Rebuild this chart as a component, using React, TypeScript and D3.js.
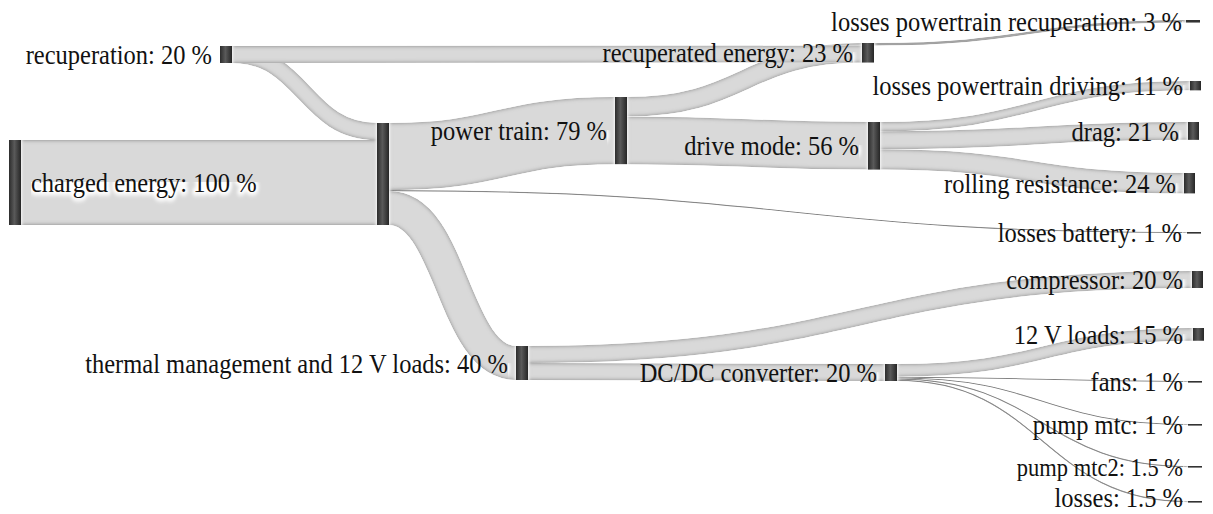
import React from 'react';
import * as d3 from 'd3';

// ---------- data ----------
const nodeNames = [
  'recuperation', 'charged energy', '', 'power train',
  'thermal management and 12 V loads', 'recuperated energy', 'drive mode',
  'DC/DC converter', 'losses powertrain recuperation', 'losses powertrain driving',
  'drag', 'rolling resistance', 'losses battery', 'compressor', '12 V loads',
  'fans', 'pump mtc', 'pump mtc2', 'losses',
];
const nodeValues = [20, 100, 120, 79, 40, 23, 56, 20, 3, 11, 21, 24, 1, 20, 15, 1, 1, 1.5, 1.5];

const linkSource = [0, 1, 2, 2, 2, 3, 3, 5, 5, 6, 6, 6, 4, 4, 7, 7, 7, 7, 7];
const linkTarget = [2, 2, 3, 12, 4, 5, 6, 8, 0, 9, 10, 11, 13, 7, 14, 15, 16, 17, 18];
const linkValue = [20, 100, 79, 1, 40, 23, 56, 3, 20, 11, 21, 24, 20, 20, 15, 1, 1, 1.5, 1.5];

// ---------- layout (hand-placed node positions, as in the reference) ----------
const nodeLeft = [220, 9, 377, 615, 516, 862, 868, 885, 1186, 1190, 1188, 1184, 1187, 1192, 1193, 1188, 1188, 1188, 1188];
const nodeTop = [46, 140, 123, 97, 346, 43, 122, 364, 20, 81, 122, 173, 232, 271, 328, 381, 424, 466, 501];
const labelGap = [8, 0, 0, 8, 8, 9, 9, 8, 4, 7, 9, 8, 5, 9, 10, 5, 5, 5, 5];
const labelShift = [0, 0, 0, 0, 0, 0, 0, 0, 0, 0, 0, 0, 0, 0, 0, 0, 0, 0, -4];
const labelSize = [24.5, 24.5, 24.5, 24.5, 24.5, 24.5, 24.5, 24.5, 24.5, 24.5, 24.5, 24.5, 24.5, 24.5, 24.5, 24.5, 24.5, 22.5, 24.5];

const W = 1213;
const H = 514;

const hScale = d3.scaleLinear().domain([0, 100]).range([0, 85]);

export default function App() {
  const n = nodeNames.length;
  const nodeH = nodeValues.map((v) => hScale(v));
  const nodeW = nodeValues.map((v, i) => (nodeLeft[i] > 1100 ? (v < 5 ? 14 : 11) : 12));

  const outOff = new Array(n).fill(0);
  const inOff = new Array(n).fill(0);
  const linkGen = d3.linkHorizontal<any, [number, number]>()
    .source((d: any) => d.s)
    .target((d: any) => d.t);

  const links = linkValue.map((v, i) => {
    const s = linkSource[i];
    const t = linkTarget[i];
    const h = hScale(v);
    let x0, y0, x1, y1;
    if (nodeLeft[t] < nodeLeft[s]) {
      x0 = nodeLeft[t] + nodeW[t];
      y0 = nodeTop[t] + h / 2;
      x1 = nodeLeft[s];
      y1 = nodeTop[s] + nodeH[s] - h / 2;
    } else {
      x0 = nodeLeft[s] + nodeW[s];
      y0 = nodeTop[s] + outOff[s] + h / 2;
      outOff[s] += h;
      x1 = nodeLeft[t];
      y1 = nodeTop[t] + inOff[t] + h / 2;
      inOff[t] += h;
    }
    return { d: linkGen({ s: [x0, y0], t: [x1, y1] } as any) as string, w: Math.max(h, 1.1) };
  });

  const font = 'Liberation Serif';

  const labels = nodeNames.map((name, i) => {
    if (!name) return null;
    const text = `${name}: ${nodeValues[i]} %`;
    const cy = nodeTop[i] + Math.max(nodeH[i], 1.5) / 2 + labelShift[i];
    let x = nodeLeft[i] - labelGap[i];
    let anchor = 'end';
    if (i === 1) {
      x = nodeLeft[i] + nodeW[i] + 10;
      anchor = 'start';
    }
    return { text, x, y: cy, anchor, size: labelSize[i] };
  });

  return (
    <svg width={W} height={H} style={{ position: 'absolute', left: 0, top: 0, background: '#fff' }}>
      <defs>
        <filter id="bandShade" filterUnits="userSpaceOnUse" x={0} y={0} width={W} height={H}>
          <feGaussianBlur in="SourceAlpha" stdDeviation={2} result="b" />
          <feComposite in="SourceAlpha" in2="b" operator="arithmetic" k1={0} k2={1} k3={-1} k4={0} result="edge" />
          <feFlood floodColor="#646464" result="c" />
          <feComposite in="c" in2="edge" operator="in" result="sh" />
          <feMerge>
            <feMergeNode in="SourceGraphic" />
            <feMergeNode in="sh" />
          </feMerge>
        </filter>
        <filter id="glow" filterUnits="userSpaceOnUse" x={0} y={0} width={W} height={H}>
          <feGaussianBlur stdDeviation={1.8} />
        </filter>
        <linearGradient id="nodeGrad" x1="0" x2="1" y1="0" y2="0">
          <stop offset="0" stopColor="#2c2c2c" />
          <stop offset="0.45" stopColor="#5a5a5a" />
          <stop offset="1" stopColor="#262626" />
        </linearGradient>
      </defs>

      <g>
        {links.map((l, i) => (
          <path key={i} d={l.d} fill="none" stroke="#d9d9d9" strokeWidth={l.w} filter="url(#bandShade)" />
        ))}
      </g>

      <g>
        {nodeNames.map((_, i) => {
          const h = Math.max(nodeH[i], 1.6);
          return (
            <g key={i}>
              <rect x={nodeLeft[i] - 1.5} y={nodeTop[i] - 1.5} width={nodeW[i] + 3} height={h + 3} fill="#fff" filter="url(#glow)" />
              <rect x={nodeLeft[i]} y={nodeTop[i]} width={nodeW[i]} height={h} fill={nodeH[i] < 4 ? '#333' : 'url(#nodeGrad)'} />
            </g>
          );
        })}
      </g>

      <g>
        {labels.map((lb, i) =>
          lb ? (
            <g key={i} transform={`translate(${lb.x},${lb.y}) scale(1,1.12)`}>
              <text x={0} y={0} dy="0.35em" textAnchor={lb.anchor as any} fontSize={lb.size}
                style={{ fontFamily: font }}
                stroke="#fff" strokeWidth={6} strokeLinejoin="round" fill="#fff" filter="url(#glow)">
                {lb.text}
              </text>
              <text x={0} y={0} dy="0.35em" textAnchor={lb.anchor as any} fontSize={lb.size}
                style={{ fontFamily: font }} fill="#111">
                {lb.text}
              </text>
            </g>
          ) : null
        )}
      </g>
    </svg>
  );
}
